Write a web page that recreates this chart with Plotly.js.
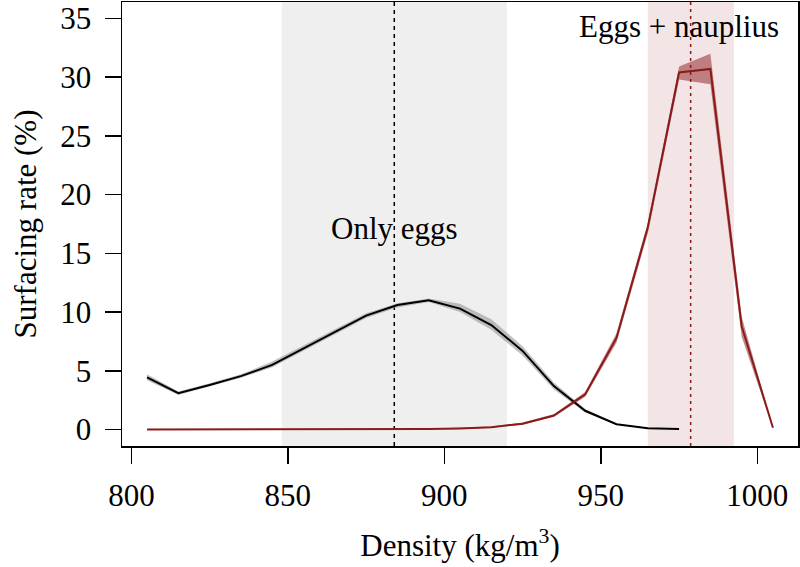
<!DOCTYPE html>
<html>
<head>
<meta charset="utf-8">
<script src="https://cdn.plot.ly/plotly-3.0.1.min.js"></script>
<style>html,body{margin:0;padding:0;background:#fff;}#chart{width:800px;height:567px;}</style>
</head>
<body>
<div id="chart"></div>
<script>
// Density classes (kg/m3)
const densEggs = [805,815,825,835,845,855,865,875,885,895,905,915,925,935,945,955,965,975];
const rateEggs = [4.45,3.1,3.8,4.55,5.5,6.9,8.3,9.7,10.6,11.0,10.3,8.9,6.7,3.7,1.6,0.45,0.12,0.05];
const lowEggs  = [4.2,2.95,3.65,4.4,5.3,6.7,8.1,9.5,10.4,10.85,10.0,8.5,6.3,3.4,1.45,0.4,0.1,0.04];
const highEggs = [4.7,3.25,3.95,4.7,5.8,7.15,8.5,9.9,10.75,11.15,10.7,9.4,7.1,4.0,1.75,0.5,0.14,0.06];

const densNaup = [805,815,825,835,845,855,865,875,885,895,905,915,925,935,945,955,965,975,985,995,1005];
const rateNaup = [0,0,0,0,0,0,0,0,0.02,0.05,0.1,0.2,0.5,1.2,3.0,7.8,17.2,30.4,30.7,8.8,0.15];
const lowNaup  = [0,0,0,0,0,0,0,0,0.01,0.03,0.05,0.15,0.4,1.1,2.8,7.4,16.7,29.8,29.4,7.9,0.12];
const highNaup = [0,0,0,0,0,0,0,0,0.03,0.07,0.15,0.25,0.6,1.3,3.2,8.2,17.6,30.9,32.0,9.6,0.18];

// Density ranges and means
const eggsRange = [848, 920];
const eggsMean = 884;
const naupRange = [965, 992.5];
const naupMean = 978.7;

const labelEggs = "Only eggs";
const labelNaup = "Eggs + nauplius";
const labelEggsX = 884;
const labelEggsY = 17.1;
const labelNaupX = 975;
const labelNaupY = 34.3;

const xTicks = [800, 850, 900, 950, 1000];
const yTicks = [0, 5, 10, 15, 20, 25, 30, 35];

const FONT = "Liberation Serif, Times New Roman, serif";
const FS = 31;

function ribbon(x, lo, hi, color) {
  return {
    x: x.concat(x.slice().reverse()),
    y: hi.concat(lo.slice().reverse()),
    type: 'scatter', mode: 'lines', fill: 'toself',
    fillcolor: color, line: {width: 0}, hoverinfo: 'skip', showlegend: false
  };
}

const traces = [
  ribbon(densEggs, lowEggs, highEggs, 'rgba(150,150,150,0.6)'),
  ribbon(densNaup, lowNaup, highNaup, 'rgba(139,26,26,0.5)'),
  {x: densEggs, y: rateEggs, type: 'scatter', mode: 'lines', line: {color: '#000000', width: 2}, showlegend: false},
  {x: densNaup, y: rateNaup, type: 'scatter', mode: 'lines', line: {color: '#8B1A1A', width: 2}, showlegend: false}
];

const layout = {
  width: 800, height: 567,
  margin: {l: 122, r: 2, t: 2, b: 121},
  paper_bgcolor: '#ffffff', plot_bgcolor: '#ffffff',
  font: {family: FONT, size: FS, color: '#000'},
  showlegend: false,
  xaxis: {
    range: [797, 1013], tickvals: xTicks, ticktext: xTicks.map(String),
    ticks: 'outside', ticklen: 16, tickwidth: 1.5, tickcolor: '#000',
    showline: true, linecolor: '#000', linewidth: 1.5, mirror: true,
    showgrid: false, zeroline: false, ticklabelstandoff: 5,
    tickfont: {family: FONT, size: FS},
    title: {text: 'Density (kg/m<sup>3</sup>)', font: {family: FONT, size: FS}, standoff: 22}
  },
  yaxis: {
    range: [-1.4, 36.4], tickvals: yTicks, ticktext: yTicks.map(String),
    ticks: 'outside', ticklen: 16, tickwidth: 1.5, tickcolor: '#000',
    showline: true, linecolor: '#000', linewidth: 1.5, mirror: true,
    showgrid: false, zeroline: false, ticklabelstandoff: 7,
    tickfont: {family: FONT, size: FS},
    title: {text: 'Surfacing rate (%)', font: {family: FONT, size: FS}, standoff: 14}
  },
  shapes: [
    {type: 'rect', xref: 'x', yref: 'paper', x0: eggsRange[0], x1: eggsRange[1], y0: 0, y1: 1,
     fillcolor: '#EFEFEF', line: {width: 0}, layer: 'below'},
    {type: 'rect', xref: 'x', yref: 'paper', x0: naupRange[0], x1: naupRange[1], y0: 0, y1: 1,
     fillcolor: '#F3E4E6', line: {width: 0}, layer: 'below'},
    {type: 'line', xref: 'x', yref: 'paper', x0: eggsMean, x1: eggsMean, y0: 0, y1: 1,
     line: {color: '#000', width: 1.5, dash: '4px,4px'}, layer: 'below'},
    {type: 'line', xref: 'x', yref: 'paper', x0: naupMean, x1: naupMean, y0: 0, y1: 1,
     line: {color: '#8B1A1A', width: 1.5, dash: '3px,4px'}, layer: 'below'}
  ],
  annotations: [
    {x: labelEggsX, y: labelEggsY, xref: 'x', yref: 'y', text: labelEggs, showarrow: false,
     font: {family: FONT, size: FS, color: '#000'}},
    {x: labelNaupX, y: labelNaupY, xref: 'x', yref: 'y', text: labelNaup, showarrow: false,
     font: {family: FONT, size: FS, color: '#000'}}
  ]
};

Plotly.newPlot('chart', traces, layout, {staticPlot: true, displayModeBar: false});
</script>
</body>
</html>
